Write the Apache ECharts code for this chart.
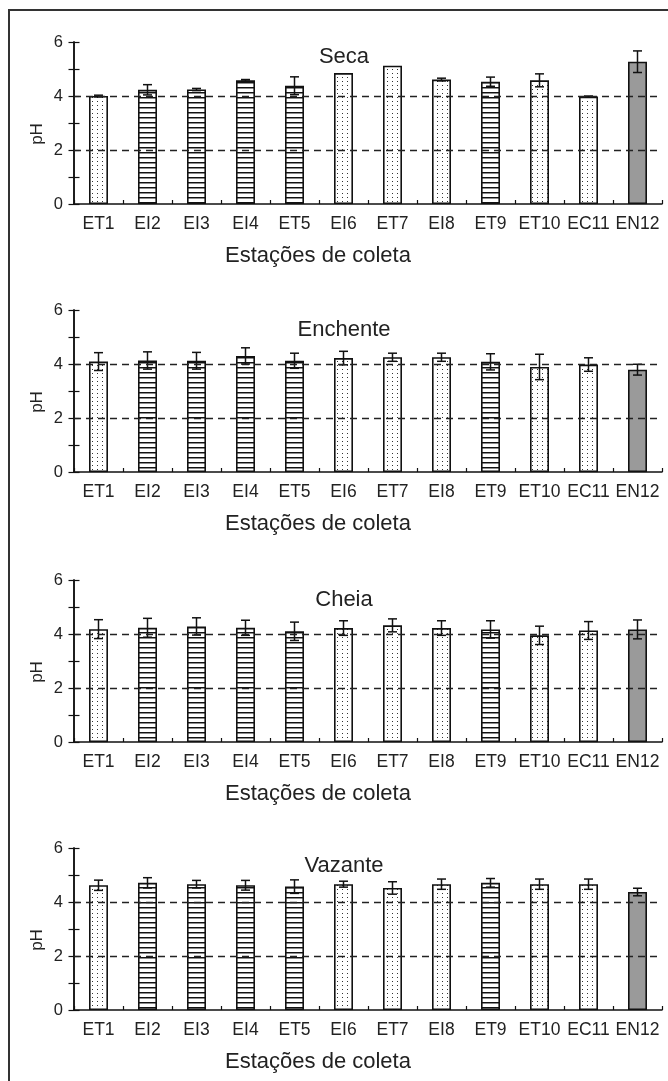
<!DOCTYPE html>
<html><head><meta charset="utf-8">
<script src="https://cdn.jsdelivr.net/npm/echarts@6/dist/echarts.min.js"></script>
<style>html,body{margin:0;padding:0;background:#fff}#c{width:668px;height:1081px}</style>
</head><body><div id="c"></div>
<script>
// ---- data ----
const categories = ['ET1','EI2','EI3','EI4','ET5','EI6','ET7','EI8','ET9','ET10','EC11','EN12'];
const fillType   = ['dots','lines','lines','lines','lines','dots','dots','dots','lines','dots','dots','gray'];
const seasons    = ['Seca','Enchente','Cheia','Vazante'];
const yTicks     = [0, 2, 4, 6];
const refLines   = [2, 4];

const secaMean     = [4.00,4.23,4.24,4.58,4.38,4.85,5.12,4.61,4.53,4.58,3.98,5.27];
const secaErr      = [0.03,0.19,0.04,0.03,0.33,0.00,0.00,0.05,0.17,0.24,0.02,0.40];
const enchenteMean = [4.09,4.13,4.12,4.30,4.12,4.22,4.25,4.25,4.08,3.89,3.98,3.79];
const enchenteErr  = [0.33,0.32,0.31,0.30,0.28,0.25,0.15,0.15,0.30,0.47,0.25,0.20];
const cheiaMean    = [4.18,4.23,4.28,4.23,4.10,4.22,4.32,4.22,4.17,3.95,4.13,4.17];
const cheiaErr     = [0.35,0.35,0.32,0.28,0.34,0.27,0.24,0.27,0.32,0.34,0.33,0.35];
const vazanteMean  = [4.62,4.71,4.66,4.62,4.57,4.66,4.52,4.66,4.71,4.66,4.66,4.37];
const vazanteErr   = [0.19,0.19,0.14,0.18,0.25,0.11,0.23,0.19,0.16,0.19,0.19,0.14];

const means = [secaMean, enchenteMean, cheiaMean, vazanteMean];
const errs  = [secaErr, enchenteErr, cheiaErr, vazanteErr];

// ---- layout ----
const FONT = '"Liberation Sans", Arial, sans-serif';
const TXT = '#222';
const gridLeft = 74, gridWidth = 588, gridH = 162;
const gridTops = [42, 310, 580, 848];
const titleY = [57, 330, 600, 866];

// ---- patterns ----
function makeDots(){
  const c=document.createElement('canvas'); c.width=5; c.height=4;
  const g=c.getContext('2d'); g.fillStyle='#fff'; g.fillRect(0,0,5,4);
  g.fillStyle='#333'; g.fillRect(2,1,1,1); return c;
}
function makeLines(){
  const c=document.createElement('canvas'); c.width=4; c.height=5;
  const g=c.getContext('2d'); g.fillStyle='#fff'; g.fillRect(0,0,4,5);
  g.fillStyle='#111'; g.fillRect(0,2,4,1);
  g.fillStyle='rgba(0,0,0,0.45)'; g.fillRect(0,3,4,1); return c;
}
const fills = {
  dots: {image: makeDots(), repeat: 'repeat'},
  lines: {image: makeLines(), repeat: 'repeat'},
  gray: '#9a9a9a'
};

const grid=[], xAxis=[], yAxis=[], series=[], graphic=[];
graphic.push({type:'rect', shape:{x:9,y:10,width:720,height:1120}, style:{fill:'none', stroke:'#333', lineWidth:2}, z:100});

for (let i=0;i<4;i++){
  grid.push({left:gridLeft, width:gridWidth, top:gridTops[i], height:gridH});
  xAxis.push({
    type:'category', gridIndex:i, data:categories, boundaryGap:true,
    axisLine:{show:true, lineStyle:{color:'#111', width:1.5}},
    axisTick:{show:true, inside:true, length:4, lineStyle:{color:'#111', width:1.2}},
    axisLabel:{interval:0, fontSize:17.5, color:TXT, fontFamily:FONT, margin:11},
    splitLine:{show:false}
  });
  const yBase = {
    type:'value', gridIndex:i, min:0, max:6, interval:1, position:'left',
    axisLine:{show:true, lineStyle:{color:'#111', width:1.5}},
    splitLine:{show:false}
  };
  yAxis.push(Object.assign({}, yBase, {
    axisTick:{show:true, inside:false, length:5.5, lineStyle:{color:'#111', width:1.2}},
    axisLabel:{fontSize:16.5, color:TXT, fontFamily:FONT, margin:11,
      formatter:v=> yTicks.indexOf(v)>=0 ? String(v) : ''}
  }));
  yAxis.push(Object.assign({}, yBase, {
    axisTick:{show:true, inside:true, length:5.5, lineStyle:{color:'#111', width:1.2}},
    axisLabel:{show:false}
  }));

  // dashed reference lines (behind bars)
  series.push({
    type:'line', xAxisIndex:i, yAxisIndex:2*i, data:[], z:1, silent:true,
    markLine:{silent:true, symbol:['none','none'], label:{show:false},
      lineStyle:{type:[7,5], color:'#222', width:1.3},
      data: refLines.map(v=>({yAxis:v}))}
  });
  // bars
  series.push({
    type:'bar', xAxisIndex:i, yAxisIndex:2*i, barWidth:19, z:2,
    data: means[i].map((v,k)=>({value:v, itemStyle:{color: fills[fillType[k]]}})),
    itemStyle:{borderColor:'#111', borderWidth:1.6}
  });
  // error bars
  const ed = means[i].map((v,k)=>[k, v, errs[i][k]]);
  series.push({
    type:'custom', xAxisIndex:i, yAxisIndex:2*i, z:3, data:ed,
    renderItem:(params, api)=>{
      const x=api.value(0), m=api.value(1), e=api.value(2);
      if (!e) return null;
      const hi=api.coord([x, m+e]), lo=api.coord([x, m-e]);
      const w=4.5, st={stroke:'#111', lineWidth:1.5};
      return {type:'group', children:[
        {type:'line', shape:{x1:hi[0],y1:hi[1],x2:lo[0],y2:lo[1]}, style:st},
        {type:'line', shape:{x1:hi[0]-w,y1:hi[1],x2:hi[0]+w,y2:hi[1]}, style:st},
        {type:'line', shape:{x1:lo[0]-w,y1:lo[1],x2:lo[0]+w,y2:lo[1]}, style:st}
      ]};
    }
  });

  // texts
  graphic.push({type:'text', x:344, y:titleY[i], z:50,
    style:{text:seasons[i], font:'22px '+FONT, fill:TXT, textAlign:'center', textVerticalAlign:'middle'}});
  graphic.push({type:'text', x:318, y:gridTops[i]+gridH+52, z:50,
    style:{text:'Estações de coleta', font:'22px '+FONT, fill:TXT, textAlign:'center', textVerticalAlign:'middle'}});
  graphic.push({type:'text', x:37, y:gridTops[i]+gridH/2+11, rotation:Math.PI/2, z:50,
    style:{text:'pH', font:'17px '+FONT, fill:TXT, textAlign:'center', textVerticalAlign:'middle'}});
}

const chart = echarts.init(document.getElementById('c'), null, {renderer:'canvas'});
chart.setOption({animation:false, backgroundColor:'#fff', grid, xAxis, yAxis, series, graphic});
</script></body></html>
